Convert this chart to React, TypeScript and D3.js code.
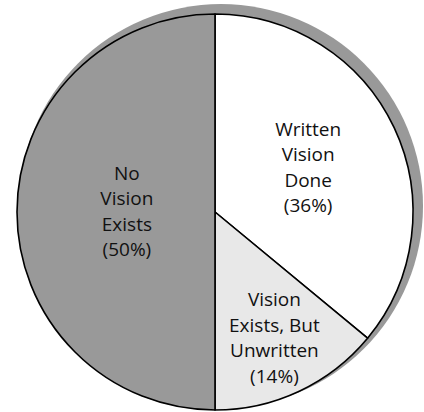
import React from "react";
import * as d3 from "d3";

const categories = ["Written Vision Done", "Vision Exists, But Unwritten", "No Vision Exists"];
const values = [36, 14, 50];
const labelLines = [
  ["Written", "Vision", "Done", "(36%)"],
  ["Vision", "Exists, But", "Unwritten", "(14%)"],
  ["No", "Vision", "Exists", "(50%)"],
];
const fills = ["#ffffff", "#e8e8e8", "#999999"];
const labelRadiusFactor = [0.52, 0.705, 0.445];

const W = 424;
const H = 412;
const cx = 215;
const cy = 212;
const R = 198;
const lineH = 25.5;

export default function App() {
  const pie = d3
    .pie<number>()
    .sort(null)
    .value((d) => d)
    .startAngle(0)
    .endAngle(2 * Math.PI);
  const arcs = pie(values);
  const arcGen = d3.arc<d3.PieArcDatum<number>>().innerRadius(0).outerRadius(R);

  return (
    <svg
      width={W}
      height={H}
      style={{ position: "absolute", left: 0, top: 0, display: "block" }}
    >
      <rect width={W} height={H} fill="#ffffff" />
      <circle cx={cx + 6} cy={cy - 6} r={R + 4} fill="#999999" />
      <g transform={`translate(${cx},${cy})`}>
        {arcs.map((a, i) => (
          <path
            key={categories[i]}
            d={arcGen(a) || ""}
            fill={fills[i]}
            stroke="#000"
            strokeWidth={1.6}
            strokeLinejoin="round"
          />
        ))}
        {arcs.map((a, i) => {
          const mid = (a.startAngle + a.endAngle) / 2;
          const r = R * labelRadiusFactor[i];
          const x = r * Math.sin(mid);
          const y = -r * Math.cos(mid);
          const lines = labelLines[i];
          const y0 = y - ((lines.length - 1) * lineH) / 2 + 6;
          return (
            <text
              key={"l" + i}
              textAnchor="middle"
              fontFamily="'Open Sans', sans-serif"
              fontSize={19}
              fill="#111"
            >
              {lines.map((t, j) => (
                <tspan key={j} x={x} y={y0 + j * lineH}>
                  {t}
                </tspan>
              ))}
            </text>
          );
        })}
      </g>
    </svg>
  );
}
